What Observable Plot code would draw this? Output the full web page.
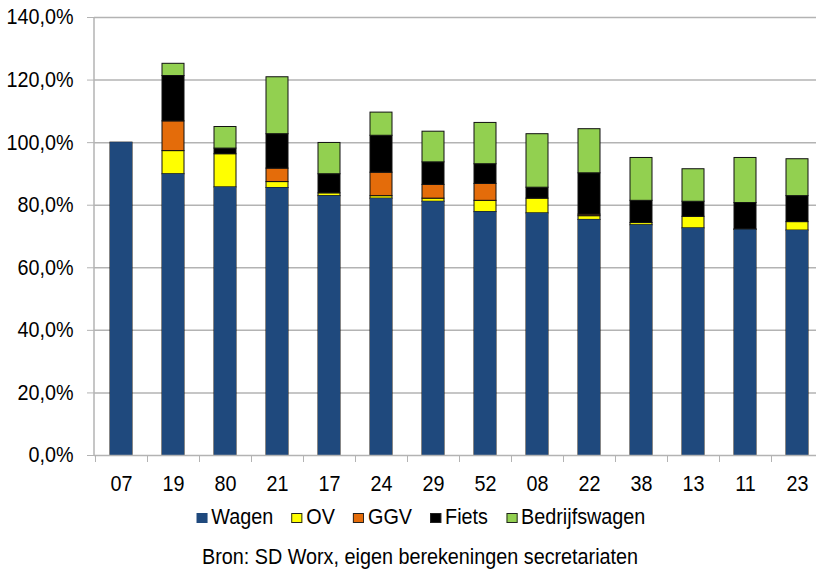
<!DOCTYPE html>
<html>
<head>
<meta charset="utf-8">
<script src="https://cdn.jsdelivr.net/npm/d3@7"></script>
<script src="https://cdn.jsdelivr.net/npm/@observablehq/plot@0.6"></script>
<style>
  html, body { margin: 0; padding: 0; background: #fff; overflow: hidden; }
  body { font-family: "Liberation Sans", Arial, sans-serif; color: #000; }
  #chart { position: absolute; left: 0; top: 0; }
  #legend, #caption { position: absolute; left: 0; width: 816px; padding-left: 25px; box-sizing: border-box; text-align: center; font-size: 21.5px; line-height: 24px; white-space: nowrap; }
  #legend { top: 505px; }
  #caption { top: 545px; }
  .squeeze { display: inline-block; transform: scaleX(0.92); transform-origin: 50% 50%; }
  .item { display: inline-block; margin: 0 10px; }
  .sw { display: inline-block; width: 12px; height: 10px; box-sizing: border-box; margin-right: 4px; vertical-align: 1px; }
</style>
</head>
<body>
<div id="chart"></div>
<div id="legend"><span class="squeeze" id="legendInner"></span></div>
<div id="caption"><span class="squeeze">Bron: SD Worx, eigen berekeningen secretariaten</span></div>
<script>
const categories = ["07","19","80","21","17","24","29","52","08","22","38","13","11","23"];
const seriesNames = ["Wagen","OV","GGV","Fiets","Bedrijfswagen"];
const seriesColors = ["#1F497D","#FFFF00","#E46C0A","#000000","#92D050"];
const wagen         = [100, 89.9, 85.7, 85.5, 82.9, 82.1, 81.1, 77.8, 77.4, 75.3, 73.6, 72.6, 72.1, 71.9];
const ov            = [0,   7.4, 10.6,  1.9,  0.9,  0.8,  1.0,  3.6,  4.7,  1.2,  0.7,  3.7,  0.2,  2.7];
const ggv           = [0,   9.5,  0,    4.3,  0,    7.5,  4.4,  5.4,  0,    0.5,  0,    0,    0,    0];
const fiets         = [0,  14.5,  1.8, 11.0,  6.1, 11.8,  7.2,  6.3,  3.5, 13.2,  7.1,  4.8,  8.4,  8.3];
const bedrijfswagen = [0,   3.9,  6.9, 18.2, 10.0,  7.4,  9.8, 13.2, 17.1, 14.1, 13.7, 10.4, 14.4, 11.8];
const yTicks = [0, 20, 40, 60, 80, 100, 120, 140];

const seriesValues = [wagen, ov, ggv, fiets, bedrijfswagen];
const rows = [];
categories.forEach((c, i) => {
  seriesNames.forEach((s, j) => {
    const v = seriesValues[j][i];
    if (v > 0) rows.push({cat: c, series: s, value: v});
  });
});

const fmt = d => d.toFixed(1).replace(".", ",") + "%";
const gray = "#b3b3b3";
const font = '"Liberation Sans", Arial, sans-serif';

const leftLine = (index, scales, values, dims) => {
  return d3.create("svg:line")
    .attr("x1", dims.marginLeft).attr("x2", dims.marginLeft)
    .attr("y1", dims.marginTop).attr("y2", dims.height - dims.marginBottom)
    .attr("stroke", gray).attr("stroke-width", 1.5).node();
};

const chart = Plot.plot({
  width: 816,
  height: 500,
  marginLeft: 94,
  marginRight: -7,
  marginTop: 17,
  marginBottom: 45,
  style: {fontFamily: font, fontSize: "21.5px", color: "#000", background: "transparent"},
  x: {domain: categories, paddingInner: 0.58, paddingOuter: 0.29, axis: null},
  y: {domain: [0, 140], axis: null},
  color: {domain: seriesNames, range: seriesColors},
  marks: [
    Plot.gridY(yTicks.filter(t => t > 0), {stroke: gray, strokeOpacity: 1, strokeWidth: 1.5}),
    Plot.barY(rows, Plot.stackY({x: "cat", y: "value", fill: "series", order: seriesNames, stroke: "#111", strokeWidth: 1})),
    Plot.barY(rows.filter(d => d.series === "Wagen"), {x: "cat", y: "value", fill: "series"}),
    Plot.ruleY([0], {stroke: gray, strokeWidth: 1.5}),
    leftLine,
    Plot.axisY({ticks: yTicks, tickSize: 7, tickFormat: () => "", stroke: gray, strokeOpacity: 1, label: null}),
    Plot.axisY({ticks: yTicks, tickSize: 0, tickPadding: 21, tickFormat: fmt, fill: "#000", label: null}),
    Plot.axisX({tickSize: 7, tickFormat: () => "", dx: -26, stroke: gray, strokeOpacity: 1, label: null}),
    Plot.axisX({tickSize: 0, tickPadding: 20, fill: "#000", label: null})
  ]
});
// narrow the glyphs horizontally around each label's own anchor
chart.querySelectorAll("text").forEach(t => {
  const tr = t.getAttribute("transform") || "";
  t.setAttribute("transform", tr + " scale(0.92,1)");
});
document.getElementById("chart").appendChild(chart);

const legend = document.getElementById("legendInner");
seriesNames.forEach((s, j) => {
  const item = document.createElement("span");
  item.className = "item";
  const sw = document.createElement("span");
  sw.className = "sw";
  sw.style.background = seriesColors[j];
  if (s !== "Wagen") sw.style.border = "1px solid #222";
  item.appendChild(sw);
  item.appendChild(document.createTextNode(s));
  legend.appendChild(item);
});
</script>
</body>
</html>
